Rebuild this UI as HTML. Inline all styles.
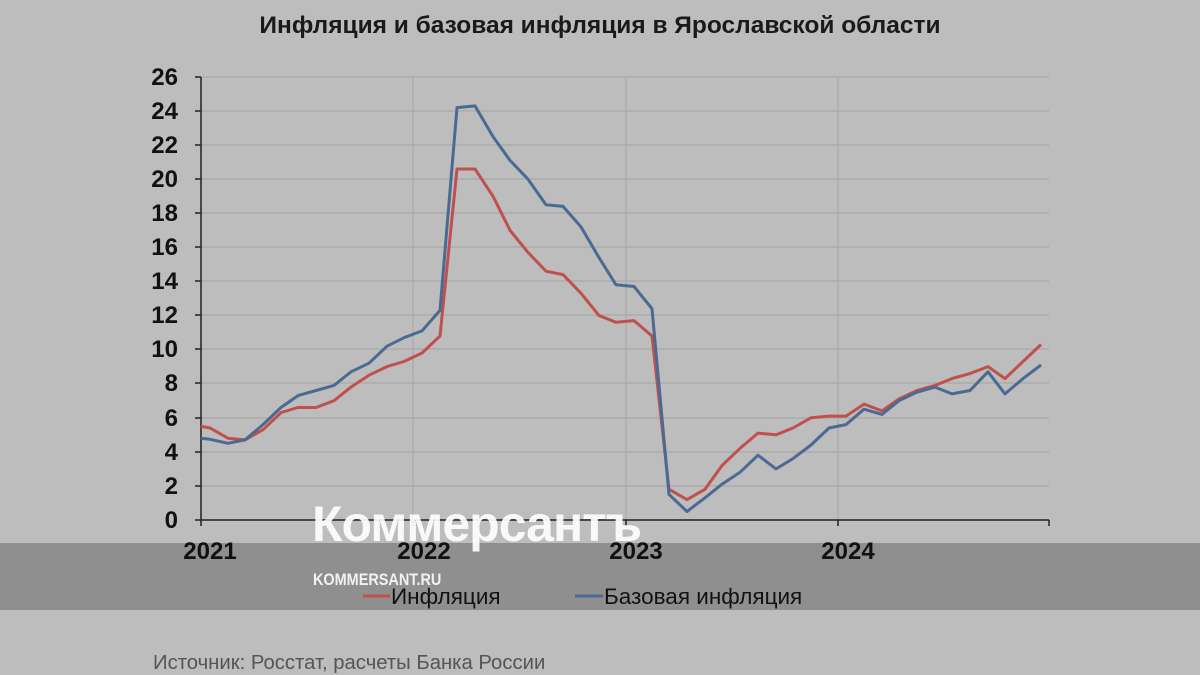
<!DOCTYPE html>
<html><head><meta charset="utf-8"><style>
body{margin:0;background:#bdbdbd;}
svg{display:block;font-family:"Liberation Sans",sans-serif;}
</style></head><body>
<svg width="1200" height="675" viewBox="0 0 1200 675" xmlns="http://www.w3.org/2000/svg">
<rect width="1200" height="675" fill="#bdbdbd"/>
<rect x="0" y="543" width="1200" height="67" fill="#8f8f8f"/>
<text x="600" y="33" text-anchor="middle" font-size="24.5" font-weight="bold" fill="#1a1a1a">Инфляция и базовая инфляция в Ярославской области</text>
<g stroke="#a9a9a9" stroke-width="1.2">
<line x1="201" y1="77" x2="1049" y2="77"/><line x1="201" y1="111" x2="1049" y2="111"/><line x1="201" y1="145" x2="1049" y2="145"/><line x1="201" y1="179" x2="1049" y2="179"/><line x1="201" y1="213" x2="1049" y2="213"/><line x1="201" y1="247" x2="1049" y2="247"/><line x1="201" y1="281" x2="1049" y2="281"/><line x1="201" y1="315" x2="1049" y2="315"/><line x1="201" y1="349" x2="1049" y2="349"/><line x1="201" y1="383" x2="1049" y2="383"/><line x1="201" y1="418" x2="1049" y2="418"/><line x1="201" y1="452" x2="1049" y2="452"/><line x1="201" y1="486" x2="1049" y2="486"/>
<line x1="413" y1="77" x2="413" y2="520"/><line x1="626" y1="77" x2="626" y2="520"/><line x1="838" y1="77" x2="838" y2="520"/>
</g>
<g stroke="#222" stroke-width="1.5">
<line x1="201" y1="77" x2="201" y2="526"/><line x1="195" y1="520" x2="1049" y2="520"/>
<line x1="413" y1="520" x2="413" y2="526"/><line x1="626" y1="520" x2="626" y2="526"/><line x1="838" y1="520" x2="838" y2="526"/><line x1="1049" y1="520" x2="1049" y2="526"/>
<line x1="195" y1="77" x2="201" y2="77"/><line x1="195" y1="111" x2="201" y2="111"/><line x1="195" y1="145" x2="201" y2="145"/><line x1="195" y1="179" x2="201" y2="179"/><line x1="195" y1="213" x2="201" y2="213"/><line x1="195" y1="247" x2="201" y2="247"/><line x1="195" y1="281" x2="201" y2="281"/><line x1="195" y1="315" x2="201" y2="315"/><line x1="195" y1="349" x2="201" y2="349"/><line x1="195" y1="383" x2="201" y2="383"/><line x1="195" y1="418" x2="201" y2="418"/><line x1="195" y1="452" x2="201" y2="452"/><line x1="195" y1="486" x2="201" y2="486"/>
</g>
<g font-size="24" font-weight="bold" fill="#111" text-anchor="end">
<text x="178" y="85">26</text><text x="178" y="119">24</text><text x="178" y="153">22</text><text x="178" y="187">20</text><text x="178" y="221">18</text><text x="178" y="255">16</text><text x="178" y="289">14</text><text x="178" y="323">12</text><text x="178" y="357">10</text><text x="178" y="391">8</text><text x="178" y="426">6</text><text x="178" y="460">4</text><text x="178" y="494">2</text><text x="178" y="528">0</text>
</g>
<g font-size="24" font-weight="bold" fill="#111" text-anchor="middle">
<text x="210" y="559">2021</text><text x="424" y="559">2022</text><text x="636" y="559">2023</text><text x="848" y="559">2024</text>
</g>
<polyline fill="none" stroke="#c0504d" stroke-width="3" stroke-linejoin="round" points="201,426.3 210,428 228,438.2 245,439.9 263,429.7 281,412.6 298,407.5 316,407.5 334,400.7 351,387.1 369,375.2 387,366.6 404,361.5 422,353 440,336 457,169 475,169 493,196.2 510,230.3 528,252.4 546,271.2 563,274.6 581,293.3 599,315.5 616,322.3 634,320.6 652,336 669,489.3 687,499.6 705,489.3 722,465.5 740,448.4 758,433.1 776,434.8 793,428 811,417.8 829,416.1 846,416.1 864,404.1 882,410.9 899,399 917,390.5 935,385.4 952,378.6 970,373.5 988,366.6 1005,378.6 1023,361.5 1041,344.5"/>
<polyline fill="none" stroke="#4a6a94" stroke-width="3" stroke-linejoin="round" points="201,438.2 210,439.3 228,443.3 245,439.9 263,424.6 281,407.5 298,395.6 316,390.5 334,385.4 351,371.8 369,363.2 387,346.2 404,337.7 422,330.9 440,310.4 457,107.6 475,105.9 493,136.6 510,160.4 528,179.2 546,204.7 563,206.4 581,226.9 599,257.6 616,284.8 634,286.5 652,308.7 669,494.4 687,511.5 705,497.8 722,484.2 740,472.3 758,455.2 776,468.9 793,458.6 811,445 829,428 846,424.6 864,409.2 882,414.4 899,400.7 917,392.2 935,387.1 952,393.9 970,390.5 988,371.8 1005,393.9 1023,378.6 1041,365"/>
<text x="312" y="541" font-size="50" font-weight="bold" fill="#ffffff" opacity="0.92" letter-spacing="-1">Коммерсантъ</text>
<text x="313" y="585" font-size="17" font-weight="bold" fill="#f2f2f2" transform="translate(313 0) scale(0.85 1) translate(-313 0)">KOMMERSANT.RU</text>
<line x1="363" y1="596" x2="390" y2="596" stroke="#c0504d" stroke-width="3"/>
<text x="391" y="604" font-size="22.5" fill="#111">Инфляция</text>
<line x1="575" y1="596" x2="603" y2="596" stroke="#4a6a94" stroke-width="3"/>
<text x="604" y="604" font-size="22.5" fill="#111">Базовая инфляция</text>
<text x="153" y="669" font-size="20.3" fill="#555">Источник: Росстат, расчеты Банка России</text>
</svg>
</body></html>
